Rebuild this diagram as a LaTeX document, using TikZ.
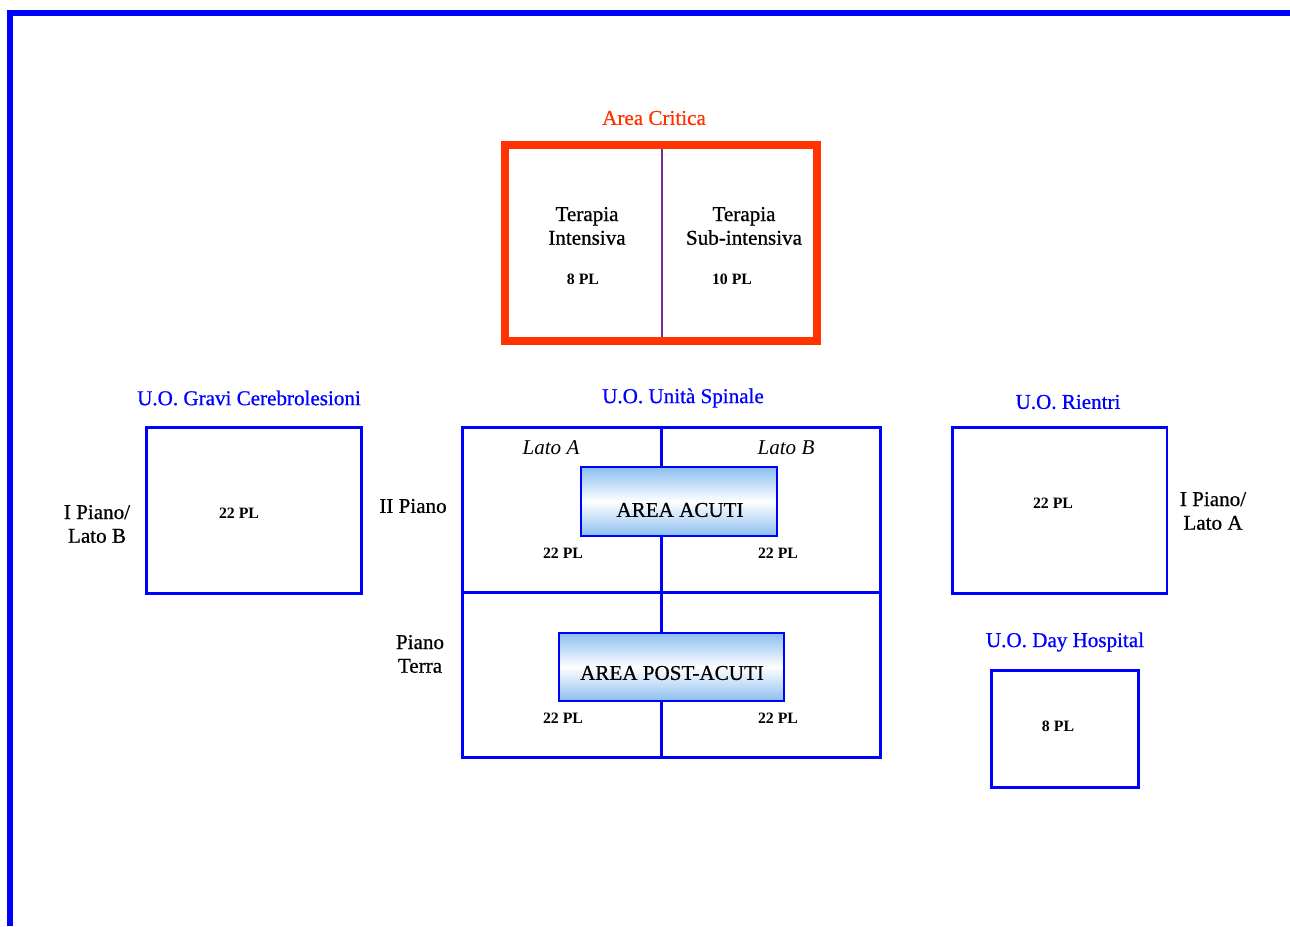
\documentclass[tikz,border=0pt]{standalone}
\usepackage{fontspec}
\setmainfont{Liberation Serif}
\newfontfamily\heavyserif{Liberation Serif}[FakeBold=0.7]
\definecolor{frameblue}{RGB}{0,0,255}
\definecolor{critred}{RGB}{255,51,0}
\definecolor{divpurple}{RGB}{112,48,160}
\definecolor{areablue}{RGB}{140,190,240}
\tikzset{
  unitbox/.style={draw=frameblue, line width=0.06cm, rectangle, inner sep=0pt},
  critbox/.style={draw=critred, line width=0.16cm, rectangle, inner sep=0pt},
  areabox/.style={draw=frameblue, line width=0.03cm, rectangle, inner sep=0pt,
    top color=areablue, bottom color=areablue, middle color=white},
  unittitle/.style={text=frameblue, font=\heavyserif\fontsize{12pt}{13.5pt}\selectfont},
  lbl/.style={align=center, font=\heavyserif\fontsize{12pt}{13.5pt}\selectfont},
  pl/.style={font=\fontsize{9pt}{10pt}\selectfont\bfseries},
  lato/.style={font=\fontsize{12pt}{13.5pt}\selectfont\itshape}
}
\begin{document}
\begin{tikzpicture}[x=0.02cm, y=-0.02cm]
  \useasboundingbox (0,0) rectangle (1290,926);
  \draw [frameblue, line width=0.12cm] (10,926) -- (10,13) -- (1290,13);

  % area critica
  \node [text=critred, font=\heavyserif\fontsize{12pt}{13.5pt}\selectfont] (crittitle) at (654,118) {Area Critica};
  \coordinate (critmid) at (662,243);
  \node [minimum width=6.24cm, minimum height=3.76cm, inner sep=0pt] (critin) at (661,243) {};
  \draw [divpurple, line width=0.04cm] (critin.north -| critmid) -- (critin.south -| critmid);
  \node [critbox, minimum width=6.24cm, minimum height=3.92cm] (crit) at (661,243) {};
  \node [lbl] (ti) at (587,226) {Terapia\\Intensiva};
  \node [pl] (tipl) at (583,279) {8 PL};
  \node [lbl] (tsi) at (744,226) {Terapia\\Sub-intensiva};
  \node [pl] (tsipl) at (732,279) {10 PL};

  % u.o. gravi cerebrolesioni
  \node [unittitle] (gctitle) at (249,398) {U.O. Gravi Cerebrolesioni};
  \node [unitbox, minimum width=4.32cm, minimum height=3.34cm] (gc) at (254,510.5) {};
  \node [pl] (gcpl) at (239,513) {22 PL};
  \node [lbl] (gcfloor) at (97,524) {I Piano/\\Lato B};

  % u.o. unita spinale
  \node [unittitle] (ustitle) at (683,398) {U.O. Unità Spinale};
  \node [unitbox, minimum width=8.38cm, minimum height=6.62cm] (us) at (671.5,592.5) {};
  \coordinate (usmid) at (661,592.5);
  \draw [frameblue, line width=0.06cm] (us.north -| usmid) -- (us.south -| usmid);
  \draw [frameblue, line width=0.06cm] (us.west) -- (us.east);
  \node [lato] (lata) at (551,448) {Lato A};
  \node [lato] (latb) at (786,448) {Lato B};
  \node [areabox, minimum width=3.92cm, minimum height=1.38cm] (acuti) at (679,501.5) {};
  \node [lbl] (acutitxt) at (680,510) {AREA ACUTI};
  \node [pl] (acplA) at (563,553) {22 PL};
  \node [pl] (acplB) at (778,553) {22 PL};
  \node [lbl] (iipiano) at (413,506) {II Piano};
  \node [areabox, minimum width=4.5cm, minimum height=1.36cm] (post) at (671.5,667) {};
  \node [lbl] (posttxt) at (672,673) {AREA POST-ACUTI};
  \node [pl] (poplA) at (563,718) {22 PL};
  \node [pl] (poplB) at (778,718) {22 PL};
  \node [lbl] (terra) at (420,654) {Piano\\Terra};

  % u.o. rientri
  \node [unittitle] (rititle) at (1068,402) {U.O. Rientri};
  \node [unitbox, minimum width=4.3cm, minimum height=3.34cm] (ri) at (1059.5,510.5) {};
  \node [pl] (ripl) at (1053,503) {22 PL};
  \node [lbl] (rifloor) at (1213,511) {I Piano/\\Lato A};

  % u.o. day hospital
  \node [unittitle] (dhtitle) at (1065,642) {U.O. Day Hospital};
  \node [unitbox, minimum width=2.94cm, minimum height=2.34cm] (dh) at (1064.5,728.5) {};
  \node [pl] (dhpl) at (1058,726) {8 PL};
\end{tikzpicture}
\end{document}
